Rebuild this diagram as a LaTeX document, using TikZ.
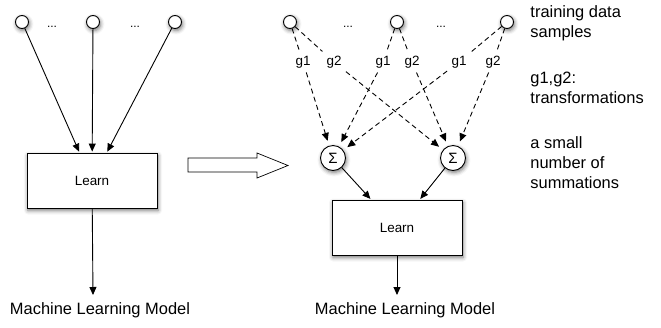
\documentclass[tikz,border=0pt]{standalone}
\usepackage{fontspec}
\setmainfont{Liberation Sans}
\usetikzlibrary{arrows.meta,shadows.blur}
\tikzset{
	soft/.style={blur shadow={shadow xshift=1bp,shadow yshift=-2bp,shadow blur radius=4bp,shadow opacity=55}},
	sample/.style={draw,circle,fill=white,minimum size=13bp,inner sep=0pt,soft},
	learnbox/.style={draw,fill=white,minimum width=130bp,minimum height=55bp,font=\fontsize{13.5}{16}\selectfont,soft},
	sumnode/.style={draw,circle,fill=white,minimum size=25bp,inner sep=0pt,font=\fontsize{15}{16}\selectfont,soft},
	trafo/.style={inner sep=4bp,font=\fontsize{13.5}{16}\selectfont},
	dotsnode/.style={anchor=base,font=\fontsize{12}{14}\selectfont},
	modeltext/.style={font=\fontsize{16.5}{20}\selectfont},
	note/.style={anchor=north west,align=left,inner sep=0pt,font=\fontsize{16.5}{20}\selectfont},
	trafoline/.style={dash pattern=on 5bp off 3.5bp}
}
\begin{document}
\begin{tikzpicture}[x=1bp,y=-1bp,line width=0.9bp,>={Triangle[length=8bp,width=7bp]}]
	\useasboundingbox (0,0) rectangle (661,327);
		\draw (22,22) node[sample](XL1) {};
		\draw (93,22) node[sample](XL2) {};
		\draw (175,22) node[sample](XL3) {};
		\draw (52,27) node[dotsnode] {...};
		\draw (135,27) node[dotsnode] {...};
		\draw (92,181) node[learnbox](LearnL) {Learn};
		\coordinate (OutL) at (93,295);
		\draw (100,310) node[modeltext](ModelL) {Machine Learning Model};
        \draw[->,shorten >=1.5bp] (XL1) -- (LearnL);
        \draw[->,shorten >=1.5bp] (XL2) -- (LearnL);
        \draw[->,shorten >=1.5bp] (XL3) -- (LearnL);
        \draw[->] (LearnL) -- (OutL);
		\draw[fill=white,line width=0.7bp] (188,158) -- (257,158) -- (257,153) -- (288,165.5) -- (257,178) -- (257,172) -- (188,172) -- cycle;
		\draw (290,22) node[sample](XR1) {};
		\draw (397,22) node[sample](XR2) {};
		\draw (507,22) node[sample](XR3) {};
		\draw (348,27) node[dotsnode] {...};
		\draw (441,27) node[dotsnode] {...};
		\draw (303,62) node[trafo](G1a) {g1};
		\draw (334,62) node[trafo](G2a) {g2};
		\draw (383,62) node[trafo](G1b) {g1};
		\draw (412,62) node[trafo](G2b) {g2};
		\draw (459,62) node[trafo](G1c) {g1};
		\draw (493,62) node[trafo](G2c) {g2};
		\draw (333,158) node[sumnode](S1) {Σ};
		\draw (453,158) node[sumnode](S2) {Σ};
		\draw (397,228) node[learnbox](LearnR) {Learn};
		\coordinate (OutR) at (397,295);
		\draw (405,310) node[modeltext](ModelR) {Machine Learning Model};
        \draw[trafoline] (XR1) -- (G1a);
        \draw[trafoline] (XR1) -- (G2a);
        \draw[trafoline] (XR2) -- (G1b);
        \draw[trafoline] (XR2) -- (G2b);
        \draw[trafoline] (XR3) -- (G1c);
        \draw[trafoline] (XR3) -- (G2c);
        \draw[trafoline,->,shorten >=5bp] (G1a) -- (S1);
        \draw[trafoline,->,shorten >=5bp] (G1b) -- (S1);
        \draw[trafoline,->,shorten >=5bp] (G1c) -- (S1);
        \draw[trafoline,->,shorten >=5bp] (G2a) -- (S2);
        \draw[trafoline,->,shorten >=5bp] (G2b) -- (S2);
        \draw[trafoline,->,shorten >=5bp] (G2c) -- (S2);
        \draw[->,shorten >=1.5bp] (S1) -- (LearnR);
        \draw[->,shorten >=1.5bp] (S2) -- (LearnR);
        \draw[->] (LearnR) -- (OutR);
		\draw (530,5.5) node[note](NoteData) {training data\\samples};
		\draw (530,72) node[note](NoteTrafo) {g1,g2:\\transformations};
		\draw (530,136) node[note](NoteSum) {a small\\number of\\summations};
    \end{tikzpicture}
\end{document}
